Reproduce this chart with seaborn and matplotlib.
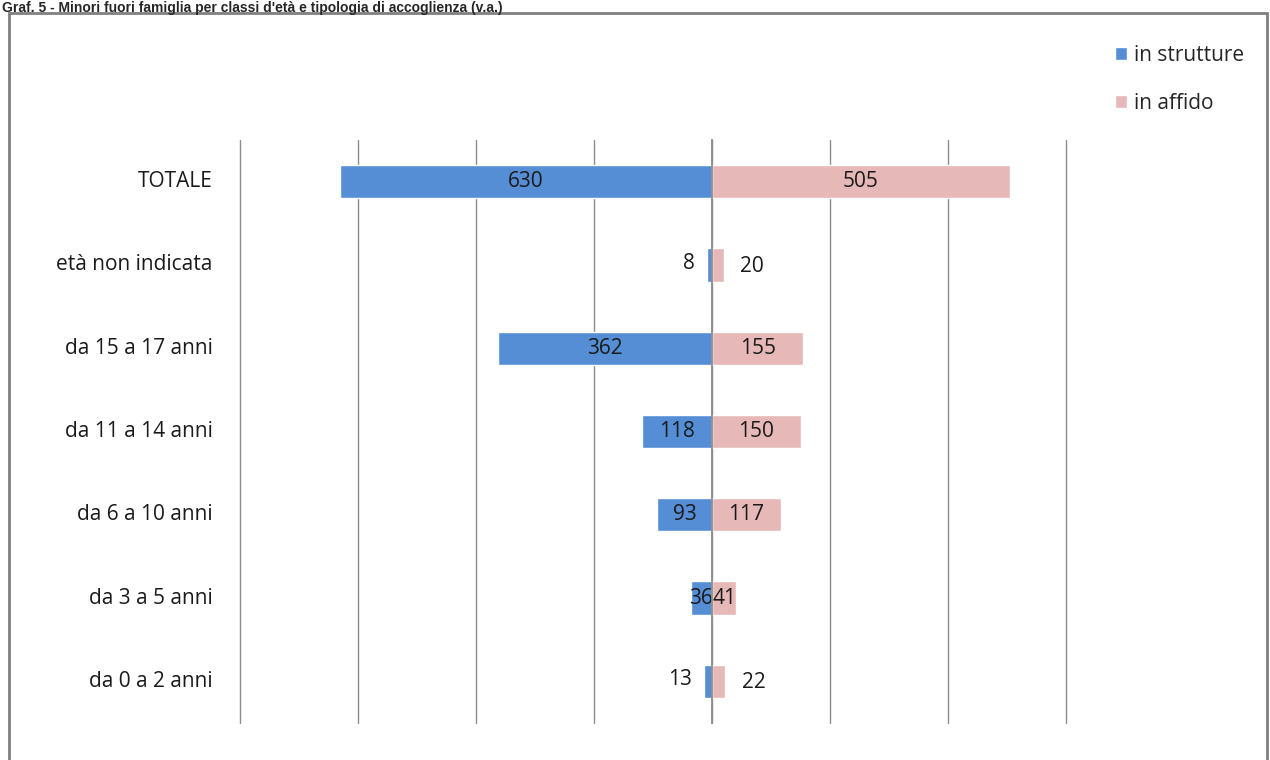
import numpy as np
import pandas as pd
import matplotlib.pyplot as plt
import seaborn as sns
from matplotlib.patches import Rectangle
from matplotlib.ticker import MultipleLocator, FixedLocator

categorie = ['TOTALE', 'età non indicata', 'da 15 a 17 anni', 'da 11 a 14 anni',
             'da 6 a 10 anni', 'da 3 a 5 anni', 'da 0 a 2 anni']
in_strutture = [630, 8, 362, 118, 93, 36, 13]
in_affido = [505, 20, 155, 150, 117, 41, 22]
serie = ['in strutture', 'in affido']
colori = ['#558ED5', '#E6B9B8']

df = pd.DataFrame({
    'classe': categorie * 2,
    'serie': [serie[0]] * len(categorie) + [serie[1]] * len(categorie),
    'valore': [-v for v in in_strutture] + in_affido,
})

sns.set_style('white')
plt.rcParams['font.family'] = ['Open Sans', 'DejaVu Sans']

fig = plt.figure(figsize=(12.7, 7.6), dpi=100)
ax = fig.add_axes([240 / 1270, 1 - 723 / 760, 826 / 1270, 583 / 760])

sns.barplot(data=df, x='valore', y='classe', hue='serie', order=categorie,
            hue_order=serie, palette=colori, orient='h', dodge=False,
            width=0.4, saturation=1, ax=ax, legend=True)

ax.set_xlim(-800, 600)
ax.set_ylim(len(categorie) - 0.5, -0.5)
ax.xaxis.set_major_locator(MultipleLocator(200))
ax.grid(axis='x', color='#8c8c8c', linewidth=1)
for gl in ax.get_xgridlines():
    gl.set_clip_on(False)
ax.set_axisbelow(True)
ax.tick_params(axis='x', length=0, labelbottom=False)
ax.set_xlabel('')
ax.set_ylabel('')

for s in ['top', 'right', 'bottom']:
    ax.spines[s].set_visible(False)
ax.spines['left'].set_position(('data', 0))
ax.spines['left'].set_color('#8c8c8c')
ax.spines['left'].set_linewidth(1.3)
ax.spines['left'].set_zorder(3)
ax.yaxis.set_major_locator(FixedLocator(range(len(categorie))))
ax.yaxis.set_minor_locator(FixedLocator(np.arange(-0.5, len(categorie), 1)))
ax.tick_params(axis='y', which='major', length=0, labelleft=False)
ax.tick_params(axis='y', which='minor', length=5, color='#8c8c8c', width=1.3, direction='out')

# category names on the left of the plot area
trans = ax.get_yaxis_transform()
for i, c in enumerate(categorie):
    ax.text(-0.033, i, c, transform=trans, ha='right', va='center',
            fontsize=15, color='#1a1a1a')

# value labels
for i in range(len(categorie)):
    vs, va_ = in_strutture[i], in_affido[i]
    if vs >= 30:
        ax.text(-vs / 2, i, str(vs), ha='center', va='center', fontsize=15, color='#1a1a1a')
    else:
        ax.annotate(str(vs), (-vs, i), xytext=(-9, 1), textcoords='offset points',
                    ha='right', va='center', fontsize=15, color='#1a1a1a')
    if va_ >= 30:
        ax.text(va_ / 2, i, str(va_), ha='center', va='center', fontsize=15, color='#1a1a1a')
    else:
        ax.annotate(str(va_), (va_, i), xytext=(12, -1), textcoords='offset points',
                    ha='left', va='center', fontsize=15, color='#1a1a1a')

ax.legend(loc='upper left', bbox_to_anchor=(1096 / 1270, 1 - 26 / 760),
          bbox_transform=fig.transFigure, frameon=False, fontsize=15,
          handlelength=0.6, handleheight=0.6, handletextpad=0.3, labelspacing=1.3)

# outer frame
fig.patches.append(Rectangle((9 / 1270, -0.05), 1258 / 1270, 1.05 - 13 / 760,
                             transform=fig.transFigure, fill=False,
                             edgecolor='#808080', linewidth=2))

fig.text(2 / 1270, 1 - 1 / 760,
         "Graf. 5 - Minori fuori famiglia per classi d'età e tipologia di accoglienza (v.a.)",
         ha='left', va='top', fontsize=10, fontweight='bold',
         family=['Liberation Sans', 'DejaVu Sans'])

fig.savefig('out.png', dpi=100)
